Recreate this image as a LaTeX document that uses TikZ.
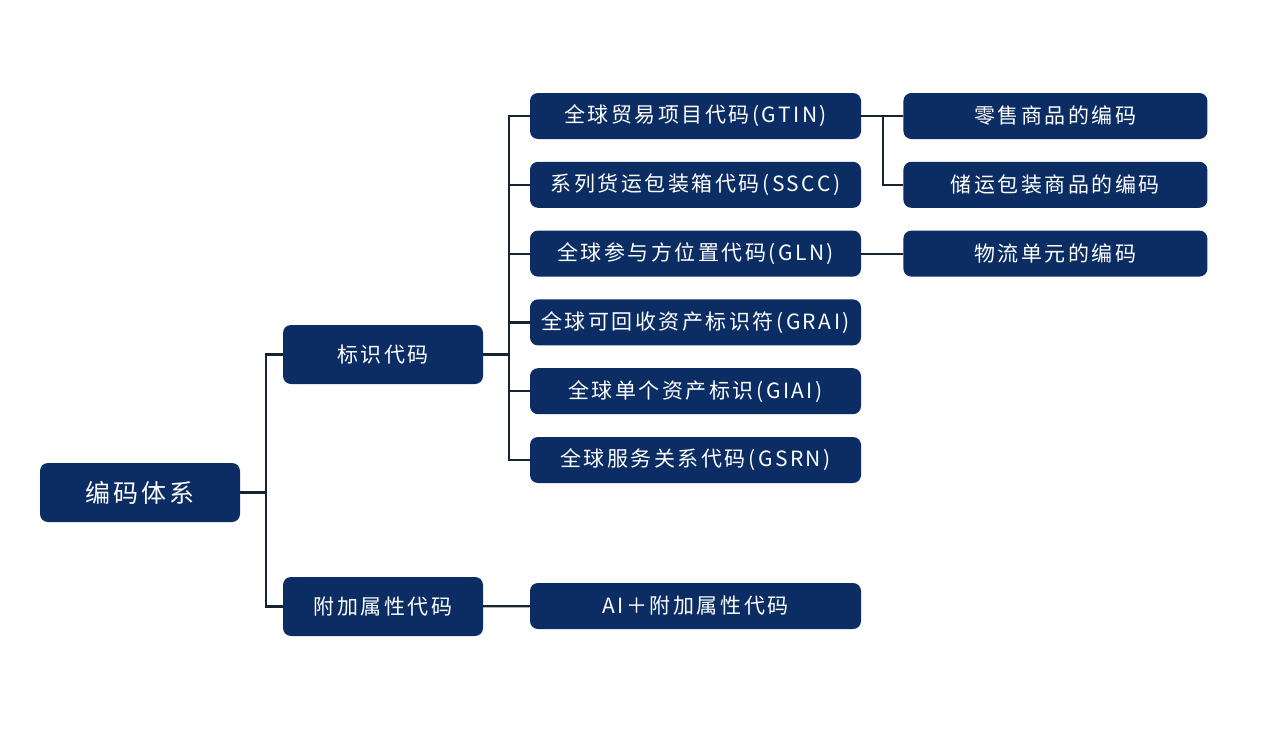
\documentclass[tikz,border=0pt]{standalone}
\usepackage{fontspec}
\usepackage{tikz}
\usetikzlibrary{positioning, calc}
\newfontfamily\cjk[LetterSpace=12]{Noto Sans CJK SC}
\definecolor{navy}{RGB}{11, 45, 99}
\definecolor{wire}{RGB}{22, 36, 50}

\begin{document}
\begin{tikzpicture}[
  x=1pt, y=-1pt,
  node distance=22.4pt and 42pt,
  box/.style={fill=navy, rounded corners=8pt, text=white, inner sep=0pt,
              font=\cjk\fontsize{21}{25}\selectfont},
  top/.style={box, minimum width=200pt, minimum height=59pt,
              font=\cjk\fontsize{25}{29}\selectfont},
  mid/.style={box, minimum width=200pt, minimum height=59pt},
  sub/.style={box, minimum width=331pt, minimum height=46pt},
  leaf/.style={box, minimum width=304pt, minimum height=46pt},
  link/.style={draw=wire, line width=2.2pt},
]
  \useasboundingbox (0,0) rectangle (1277,731);

  \node[top] (root) at (140,492.5) {编码体系};
  \node[mid] (ident) at (383,354.5) {标识代码};
  \node[mid] (attr) at (383,606.5) {附加属性代码};

  \node[sub] (gtin) at (695.5,116) {全球贸易项目代码(GTIN)};
  \node[sub, below=of gtin] (sscc) {系列货运包装箱代码(SSCC)};
  \node[sub, below=of sscc] (gln) {全球参与方位置代码(GLN)};
  \node[sub, below=of gln] (grai) {全球可回收资产标识符(GRAI)};
  \node[sub, below=of grai] (giai) {全球单个资产标识(GIAI)};
  \node[sub, below=of giai] (gsrn) {全球服务关系代码(GSRN)};
  \node[sub] (ai) at (695.5,606) {AI＋附加属性代码};

  \node[leaf, right=of gtin] (retail) {零售商品的编码};
  \node[leaf, right=of sscc] (store) {储运包装商品的编码};
  \node[leaf, right=of gln] (unit) {物流单元的编码};

  % trunk from the root
  \draw[link] (root.east) -- ++(25.5,0) coordinate (b0);
  \draw[link] (b0) |- (ident.west);
  \draw[link] (b0) |- (attr.west);

  % identification codes
  \draw[link] (ident.east) -- ++(26,0) coordinate (b1);
  \foreach \n in {gtin, sscc, gln, grai, giai, gsrn}
    \draw[link] (b1) |- (\n.west);

  \draw[link] (gtin.east) -- ++(22,0) coordinate (b2);
  \draw[link] (b2) -- (retail.west);
  \draw[link] (b2) |- (store.west);
  \draw[link] (gln) -- (unit);
  \draw[link] (attr) -- (ai);
\end{tikzpicture}
\end{document}
